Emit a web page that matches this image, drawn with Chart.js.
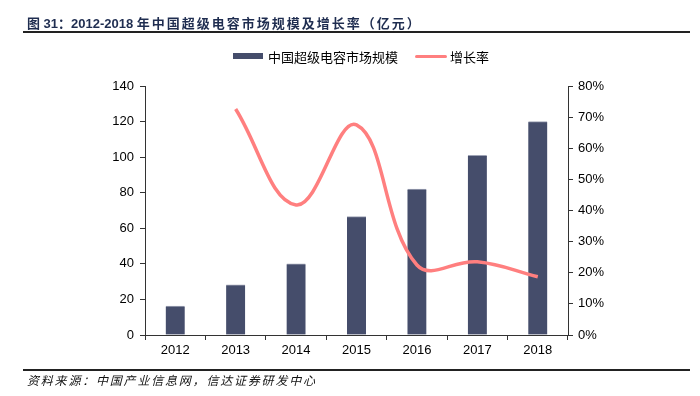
<!DOCTYPE html>
<html>
<head>
<meta charset="utf-8">
<script src="https://cdn.jsdelivr.net/npm/chart.js@4"></script>
<style>
  body { margin: 0; background: #fff; }
  #wrap { position: relative; width: 700px; height: 396px; overflow: hidden; }
  #myChart { position: absolute; left: 0; top: 0; }
  .title { position: absolute; left: 27px; top: 13px; font: bold 13px "Liberation Sans", "Noto Sans CJK SC", sans-serif; color: #1f2d50; white-space: nowrap; }
  .title .cjk { letter-spacing: 2px; }
  .rule { position: absolute; left: 23px; right: 10px; height: 2px; background: #222; }
  .legend { position: absolute; top: 47px; font: 13px "Liberation Sans", "Noto Sans CJK SC", sans-serif; color: #000; white-space: nowrap; }
  .swatch { position: absolute; top: 8px; }
  .note { position: absolute; left: 27px; top: 371px; font: italic 12px "Noto Sans CJK SC", sans-serif; color: #111; letter-spacing: 1.8px; white-space: nowrap; }
</style>
</head>
<body>
<div id="wrap">
  <canvas id="myChart" width="700" height="396"></canvas>
  <div class="title">图 31：2012-2018 <span class="cjk">年中国超级电容市场规模及增长率（亿元）</span></div>
  <div class="rule" style="top:31px"></div>
  <div class="legend" style="left:233px"><span class="swatch" style="left:0;width:30px;height:6px;background:#454d6b;top:6px"></span><span style="margin-left:35px">中国超级电容市场规模</span></div>
  <div class="legend" style="left:415px"><span class="swatch" style="left:0;width:32px;height:3px;background:#ff7f7f;top:8px;border-radius:2px"></span><span style="margin-left:35px">增长率</span></div>
  <div class="rule" style="top:369px"></div>
  <div class="note">资料来源：中国产业信息网，信达证券研发中心</div>
</div>
<script>
const years = ['2012', '2013', '2014', '2015', '2016', '2017', '2018'];
const marketSize = [16.3, 28.2, 40, 66.6, 82, 101, 120];
const growthRate = [null, 0.726, 0.418, 0.675, 0.225, 0.235, 0.187];

const axisFont = { family: 'Liberation Sans', size: 13 };

const ctx = document.getElementById('myChart');
new Chart(ctx, {
  data: {
    labels: years,
    datasets: [{
      type: 'line',
      label: '增长率',
      data: growthRate,
      yAxisID: 'y1',
      borderColor: '#ff7f7f',
      borderWidth: 3.5,
      pointRadius: 0,
      tension: 0.4,
      order: 0,
    }, {
      type: 'bar',
      label: '中国超级电容市场规模',
      data: marketSize,
      yAxisID: 'y',
      backgroundColor: '#454d6b',
      borderColor: '#9ea3b5',
      borderWidth: { top: 1, left: 0, right: 0, bottom: 0 },
      barThickness: 19,
      order: 1,
    }]
  },
  options: {
    responsive: false,
    animation: false,
    layout: { padding: { top: 86, left: 0, right: 0, bottom: 0 } },
    plugins: {
      legend: { display: false },
      tooltip: { enabled: false },
    },
    scales: {
      x: {
        offset: true,
        grid: { offset: true, drawOnChartArea: false, tickLength: 5, color: '#333' },
        border: { color: '#333', width: 1 },
        ticks: { font: axisFont, color: '#000', padding: 3 },
        afterFit: s => { s.height = 61; },
      },
      y: {
        position: 'left',
        min: 0, max: 140,
        ticks: { stepSize: 20, font: axisFont, color: '#000', padding: 6 },
        grid: { drawOnChartArea: false, tickLength: 5, color: '#333' },
        border: { color: '#333', width: 1 },
        afterFit: s => { s.width = 145; },
      },
      y1: {
        position: 'right',
        min: 0, max: 0.8,
        ticks: {
          stepSize: 0.1, font: axisFont, color: '#000', padding: 5,
          callback: v => Math.round(v * 100) + '%',
        },
        grid: { drawOnChartArea: false, tickLength: 5, color: '#333' },
        border: { color: '#333', width: 1 },
        afterFit: s => { s.width = 132; },
      },
    }
  }
});
</script>
</body>
</html>
